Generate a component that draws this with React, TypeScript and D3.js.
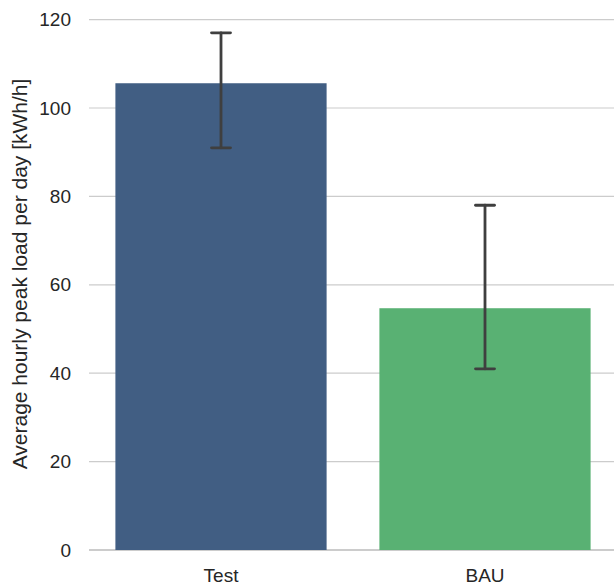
import React from "react";
import * as d3 from "d3";

const categories = ["Test", "BAU"];
const values = [105.6, 54.7];
const errLow = [91.0, 41.0];
const errHigh = [117.0, 78.0];
const colors = ["#415e83", "#59b173"];
const yTicks = [0, 20, 40, 60, 80, 100, 120];

export default function App() {
  const W = 614, H = 587;
  const left = 89, right = 617, top = 19.6, bottom = 550;
  const x = d3.scaleBand<string>().domain(categories).range([left, right]).paddingInner(0.2).paddingOuter(0.1);
  const y = d3.scaleLinear().domain([0, 120]).range([bottom, top]);
  const font = "'Liberation Sans', Arial, sans-serif";
  return (
    <svg width={W} height={H} style={{ position: "absolute", left: 0, top: 0 }}>
      <rect width={W} height={H} fill="#ffffff" />
      {yTicks.map((t) => (
        <g key={t}>
          <line x1={left} x2={W} y1={y(t)} y2={y(t)} stroke="#cccccc" strokeWidth={t === 0 ? 2 : 1.2} />
          <text x={71} y={y(t)} dy="0.35em" textAnchor="end" fontFamily={font} fontSize={19} fill="#262626">{t}</text>
        </g>
      ))}
      {categories.map((c, i) => (
        <rect key={c} x={x(c)!} width={x.bandwidth()} y={y(values[i])} height={y(0) - y(values[i])} fill={colors[i]} />
      ))}
      {categories.map((c, i) => {
        const cx = x(c)! + x.bandwidth() / 2;
        return (
          <g key={c} stroke="#3f3f3f" strokeWidth={2.8} strokeLinecap="round">
            <line x1={cx} x2={cx} y1={y(errLow[i])} y2={y(errHigh[i])} />
            <line x1={cx - 9.5} x2={cx + 9.5} y1={y(errLow[i])} y2={y(errLow[i])} />
            <line x1={cx - 9.5} x2={cx + 9.5} y1={y(errHigh[i])} y2={y(errHigh[i])} />
          </g>
        );
      })}
      {categories.map((c) => (
        <text key={c} x={x(c)! + x.bandwidth() / 2} y={581.5} textAnchor="middle" fontFamily={font} fontSize={19} fill="#262626">{c}</text>
      ))}
      <text transform={`translate(27,274) rotate(-90)`} textAnchor="middle" fontFamily={font} fontSize={21} fill="#262626">
        Average hourly peak load per day [kWh/h]
      </text>
    </svg>
  );
}
